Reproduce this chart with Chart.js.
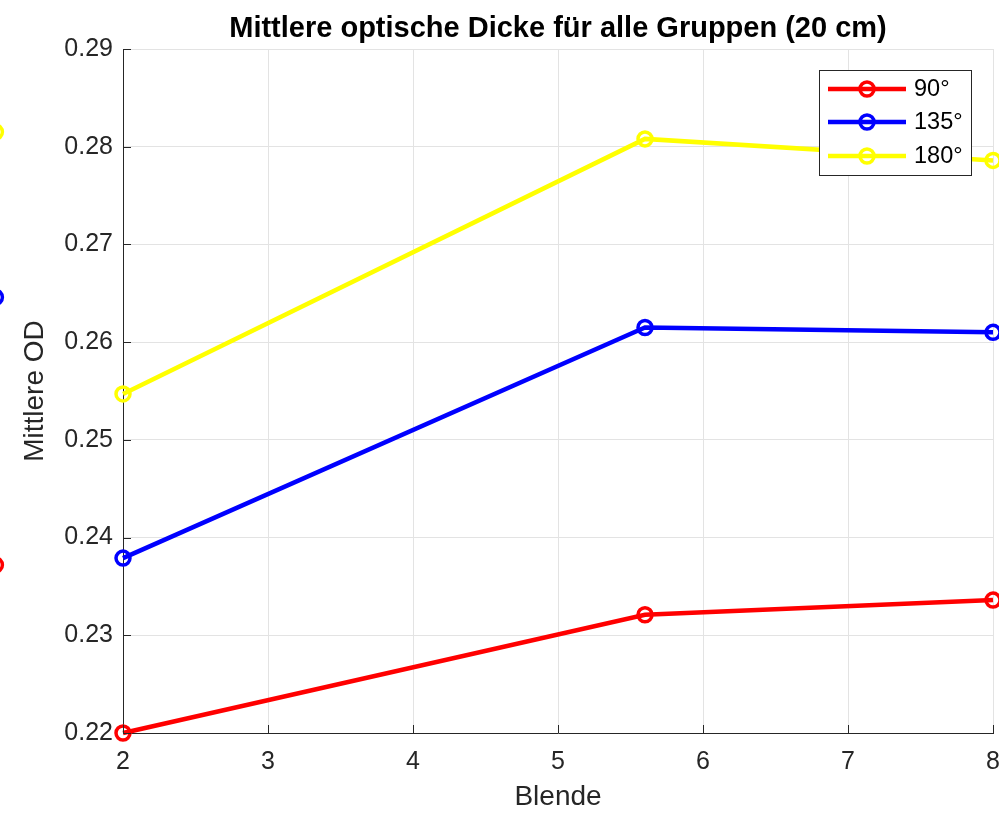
<!DOCTYPE html>
<html>
<head>
<meta charset="utf-8">
<script src="https://cdn.jsdelivr.net/npm/chart.js@4"></script>
<style>
  html, body { margin: 0; padding: 0; background: #fff; }
  #wrap { width: 999px; height: 814px; position: relative; }
</style>
</head>
<body>
<div id="wrap"><canvas id="chart"></canvas></div>
<script>
// Blende values (x) and mean OD per group
const blende = [2, 5.6, 8];
const od90 = [0.2200, 0.2321, 0.2336];
const od135 = [0.2379, 0.2615, 0.2610];
const od180 = [0.2547, 0.2808, 0.2786];
// extra points lying left of the visible x range (only the markers show)
const blendeOut = 1.12;
const odOut = [0.2372, 0.2646, 0.2815];
const groups = ['90°', '135°', '180°'];
const colors = ['#ff0000', '#0000ff', '#ffff00'];
const xTicks = [2, 3, 4, 5, 6, 7, 8];
const yTicks = [0.22, 0.23, 0.24, 0.25, 0.26, 0.27, 0.28, 0.29];

const FONT = "'Liberation Sans', Arial, Helvetica, sans-serif";
const series = [od90, od135, od180];

const datasets = series.map((vals, i) => ({
  label: groups[i],
  data: blende.map((x, j) => ({x: x, y: vals[j]})),
  borderColor: colors[i],
  backgroundColor: colors[i],
  borderWidth: 4.5,
  pointRadius: 7,
  pointBorderWidth: 3.5,
  pointBackgroundColor: 'rgba(0,0,0,0)',
  pointBorderColor: colors[i],
  pointHoverRadius: 7,
  showLine: true,
  clip: 12
}));

// markers for the points left of x = 2 (the chart skips points outside its area)
const outsideMarkers = {
  id: 'outsideMarkers',
  afterDatasetsDraw(chart) {
    const {ctx, scales: {x, y}} = chart;
    ctx.save();
    ctx.lineWidth = 3.5;
    odOut.forEach((v, i) => {
      ctx.strokeStyle = colors[i];
      ctx.beginPath();
      ctx.arc(x.getPixelForValue(blendeOut), y.getPixelForValue(v), 7, 0, Math.PI * 2);
      ctx.stroke();
    });
    ctx.restore();
  }
};

// MATLAB style ticks pointing into the axes
const inwardTicks = {
  id: 'inwardTicks',
  afterDatasetsDraw(chart) {
    const {ctx, chartArea: a, scales: {x, y}} = chart;
    ctx.save();
    ctx.strokeStyle = '#262626';
    ctx.lineWidth = 1;
    ctx.beginPath();
    xTicks.forEach(t => {
      const px = Math.round(x.getPixelForValue(t)) + 0.5;
      ctx.moveTo(px, a.bottom);
      ctx.lineTo(px, a.bottom - 8);
    });
    yTicks.forEach(t => {
      const py = Math.round(y.getPixelForValue(t)) + 0.5;
      ctx.moveTo(a.left, py);
      ctx.lineTo(a.left + 8, py);
    });
    ctx.stroke();
    ctx.restore();
  }
};

// legend box with line + marker samples
const matlabLegend = {
  id: 'matlabLegend',
  afterDraw(chart) {
    const {ctx} = chart;
    const bx = 819.5, by = 70.5, bw = 152, bh = 105;
    ctx.save();
    ctx.fillStyle = '#fff';
    ctx.fillRect(bx, by, bw, bh);
    ctx.strokeStyle = '#262626';
    ctx.lineWidth = 1;
    ctx.strokeRect(bx, by, bw, bh);
    const rows = [89, 122, 156];
    groups.forEach((g, i) => {
      const yy = rows[i];
      ctx.strokeStyle = colors[i];
      ctx.lineWidth = 4.5;
      ctx.beginPath();
      ctx.moveTo(828, yy);
      ctx.lineTo(906, yy);
      ctx.stroke();
      ctx.lineWidth = 3.5;
      ctx.beginPath();
      ctx.arc(867, yy, 7, 0, Math.PI * 2);
      ctx.stroke();
      ctx.fillStyle = '#000';
      ctx.font = '23.5px ' + FONT;
      ctx.textBaseline = 'middle';
      ctx.textAlign = 'left';
      ctx.fillText(g, 914, yy + 1);
    });
    ctx.restore();
  }
};

new Chart(document.getElementById('chart'), {
  type: 'scatter',
  data: {datasets: datasets},
  plugins: [outsideMarkers, inwardTicks, matlabLegend],
  options: {
    responsive: true,
    maintainAspectRatio: false,
    animation: false,
    events: [],
    layout: {autoPadding: false, padding: {left: 0, right: 6, top: 0, bottom: 0}},
    plugins: {
      legend: {display: false},
      tooltip: {enabled: false},
      title: {
        display: true,
        fullSize: false,
        text: 'Mittlere optische Dicke für alle Gruppen (20 cm)',
        color: '#000',
        font: {family: FONT, size: 29, weight: 'bold'},
        padding: {top: 11.5, bottom: 2.7}
      }
    },
    scales: {
      x: {
        type: 'linear',
        min: 2,
        max: 8,
        afterBuildTicks(scale) { scale.ticks = xTicks.map(v => ({value: v})); },
        afterFit(scale) {
          scale.height = 81;
          scale.paddingLeft = 0;
          scale.paddingRight = 0;
        },
        ticks: {
          color: '#262626',
          font: {family: FONT, size: 25},
          padding: 14,
          maxRotation: 0
        },
        grid: {color: '#e3e3e3', lineWidth: 1, drawTicks: false},
        border: {display: true, color: '#262626', width: 1},
        title: {
          display: true,
          text: 'Blende',
          color: '#262626',
          font: {family: FONT, size: 28},
          padding: {top: 0, bottom: 0}
        }
      },
      y: {
        type: 'linear',
        min: 0.22,
        max: 0.29,
        afterBuildTicks(scale) { scale.ticks = yTicks.map(v => ({value: v})); },
        afterFit(scale) {
          scale.width = 123;
          scale.paddingTop = 0;
          scale.paddingBottom = 0;
        },
        ticks: {
          color: '#262626',
          font: {family: FONT, size: 25},
          padding: 10,
          callback: v => v.toFixed(2)
        },
        grid: {color: '#e3e3e3', lineWidth: 1, drawTicks: false},
        border: {display: true, color: '#262626', width: 1},
        title: {
          display: true,
          text: 'Mittlere OD',
          color: '#262626',
          font: {family: FONT, size: 28},
          padding: {top: 18, bottom: 0}
        }
      }
    }
  }
});
</script>
</body>
</html>
